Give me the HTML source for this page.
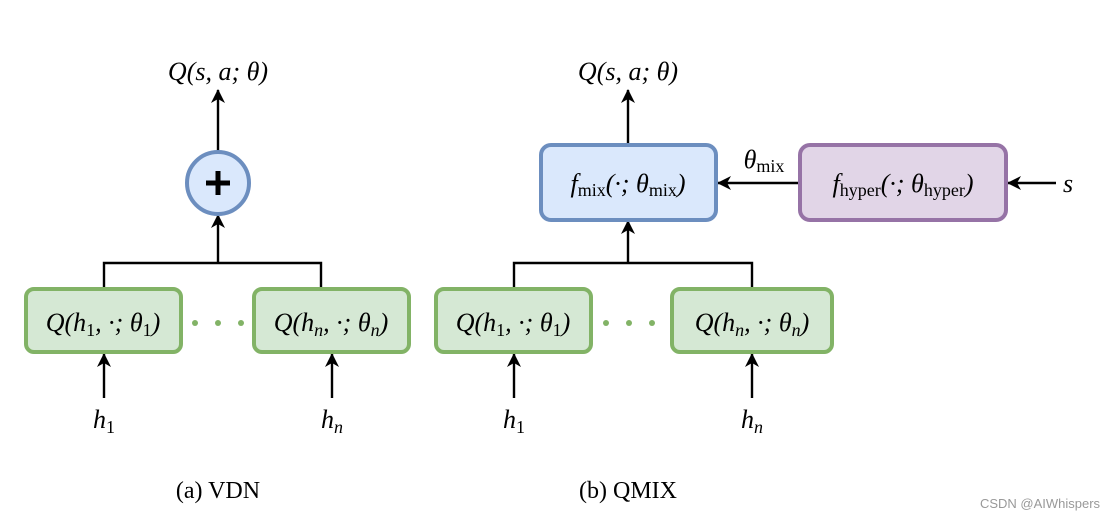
<!DOCTYPE html>
<html><head><meta charset="utf-8"><style>
body{margin:0;background:#fff}
svg{display:block}
.m{font-family:"Liberation Serif",serif;font-style:italic;font-size:26px}
.r{font-family:"Liberation Serif",serif;font-style:normal}
.c{font-family:"Liberation Serif",serif;font-size:24px}
</style></head><body>
<svg width="1100" height="524" viewBox="0 0 1100 524" xmlns="http://www.w3.org/2000/svg">
<defs><marker id="a" markerWidth="14" markerHeight="14" refX="13" refY="7" orient="auto" markerUnits="userSpaceOnUse"><path d="M0,0 L14,7 L0,14 L4,7 z" fill="#000"/></marker></defs>
<g stroke="#000" stroke-width="2.4" fill="none">
<line x1="218" y1="152" x2="218" y2="90" marker-end="url(#a)"/>
<line x1="218" y1="263" x2="218" y2="215" marker-end="url(#a)"/>
<polyline points="104,289 104,263 321,263 321,289"/>
<line x1="104" y1="398" x2="104" y2="354" marker-end="url(#a)"/>
<line x1="332" y1="398" x2="332" y2="354" marker-end="url(#a)"/>
<line x1="628" y1="145" x2="628" y2="90" marker-end="url(#a)"/>
<line x1="628" y1="263" x2="628" y2="221" marker-end="url(#a)"/>
<polyline points="514,289 514,263 752,263 752,289"/>
<line x1="514" y1="398" x2="514" y2="354" marker-end="url(#a)"/>
<line x1="752" y1="398" x2="752" y2="354" marker-end="url(#a)"/>
<line x1="800" y1="183" x2="718" y2="183" marker-end="url(#a)"/>
<line x1="1056" y1="183" x2="1008" y2="183" marker-end="url(#a)"/>
</g>
<circle cx="218" cy="183" r="31" fill="#dae8fc" stroke="#6c8ebf" stroke-width="4"/>
<path d="M218,171 V195 M206,183 H230" stroke="#000" stroke-width="5"/>
<g fill="#d5e8d4" stroke="#82b366" stroke-width="4">
<rect x="26" y="289" width="155" height="63" rx="8"/>
<rect x="254" y="289" width="155" height="63" rx="8"/>
<rect x="436" y="289" width="155" height="63" rx="8"/>
<rect x="672" y="289" width="160" height="63" rx="8"/>
</g>
<g fill="#82b366">
<circle cx="195" cy="323" r="3"/><circle cx="218" cy="323" r="3"/><circle cx="241" cy="323" r="3"/>
<circle cx="606" cy="323" r="3"/><circle cx="629" cy="323" r="3"/><circle cx="652" cy="323" r="3"/>
</g>
<rect x="541" y="145" width="175" height="75" rx="10" fill="#dae8fc" stroke="#6c8ebf" stroke-width="4"/>
<rect x="800" y="145" width="206" height="75" rx="10" fill="#e1d5e7" stroke="#9673a6" stroke-width="4"/>
<g class="m" text-anchor="middle">
<text x="218" y="80">Q(s, a; θ)</text>
<text x="628" y="80">Q(s, a; θ)</text>
<text x="103" y="331">Q(h<tspan class="r" font-size="18" dy="5">1</tspan><tspan dy="-5">, ·; θ</tspan><tspan class="r" font-size="18" dy="5">1</tspan><tspan dy="-5">)</tspan></text>
<text x="331" y="331">Q(h<tspan font-size="18" dy="5">n</tspan><tspan dy="-5">, ·; θ</tspan><tspan font-size="18" dy="5">n</tspan><tspan dy="-5">)</tspan></text>
<text x="513" y="331">Q(h<tspan class="r" font-size="18" dy="5">1</tspan><tspan dy="-5">, ·; θ</tspan><tspan class="r" font-size="18" dy="5">1</tspan><tspan dy="-5">)</tspan></text>
<text x="752" y="331">Q(h<tspan font-size="18" dy="5">n</tspan><tspan dy="-5">, ·; θ</tspan><tspan font-size="18" dy="5">n</tspan><tspan dy="-5">)</tspan></text>
<text x="628" y="192">f<tspan class="r" font-size="18" dy="4">mix</tspan><tspan dy="-4">(·; θ</tspan><tspan class="r" font-size="18" dy="4">mix</tspan><tspan dy="-4">)</tspan></text>
<text x="903" y="192">f<tspan class="r" font-size="18" dy="4">hyper</tspan><tspan dy="-4">(·; θ</tspan><tspan class="r" font-size="18" dy="4">hyper</tspan><tspan dy="-4">)</tspan></text>
<text x="764" y="168">θ<tspan class="r" font-size="18" dy="4">mix</tspan></text>
<text x="1068" y="192">s</text>
<text x="104" y="428">h<tspan class="r" font-size="18" dy="5">1</tspan></text>
<text x="332" y="428">h<tspan font-size="18" dy="5">n</tspan></text>
<text x="514" y="428">h<tspan class="r" font-size="18" dy="5">1</tspan></text>
<text x="752" y="428">h<tspan font-size="18" dy="5">n</tspan></text>
</g>
<g class="c" text-anchor="middle">
<text x="218" y="498">(a) VDN</text>
<text x="628" y="498">(b) QMIX</text>
</g>
<text x="1040" y="508" text-anchor="middle" font-family="Liberation Sans,sans-serif" font-size="13" fill="#999">CSDN @AIWhispers</text>
</svg>
</body></html>
